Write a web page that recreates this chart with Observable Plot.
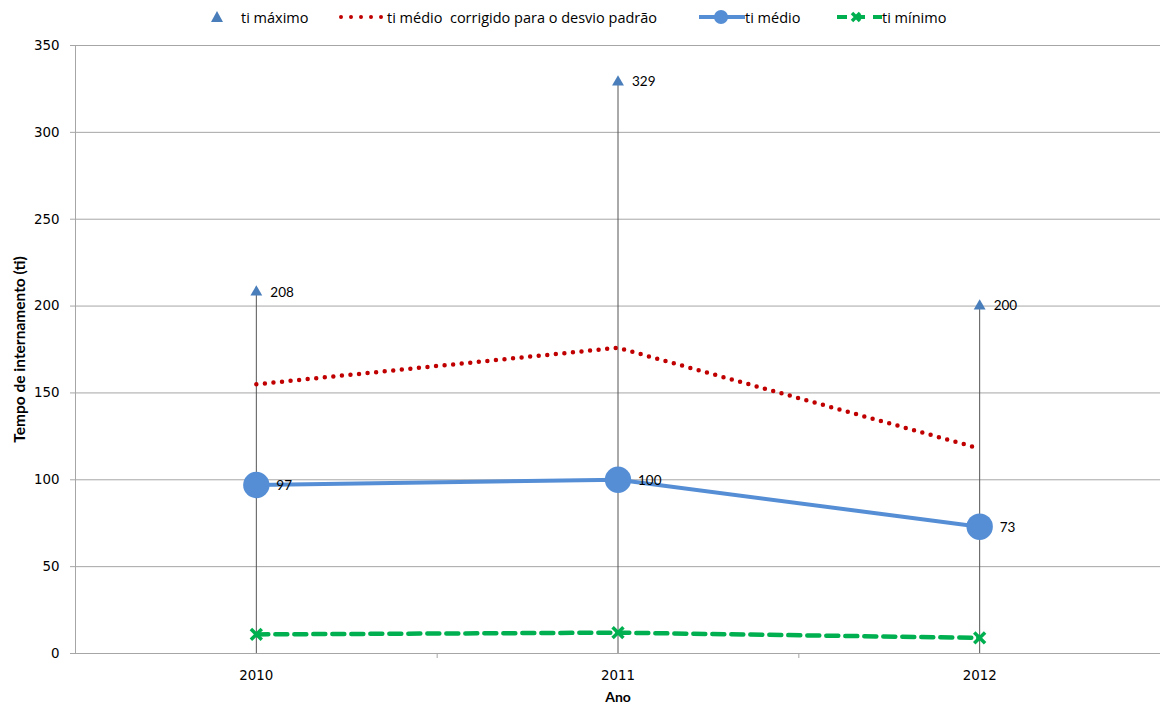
<!DOCTYPE html>
<html>
<head>
<meta charset="utf-8">
<script src="https://cdn.jsdelivr.net/npm/d3@7"></script>
<script src="https://cdn.jsdelivr.net/npm/@observablehq/plot@0.6"></script>
<style>
  html, body { margin: 0; padding: 0; background: #fff; }
  #wrap { position: relative; width: 1160px; height: 711px; }
  #legend { position: relative; height: 36px; font-family: "Open Sans", Lato, sans-serif; font-size: 14.5px; color: #000; }
  .sw { position: absolute; top: 10px; display: block; }
  .lt { position: absolute; top: 8px; line-height: 20px; white-space: pre; }
</style>
</head>
<body>
<div id="wrap">
  <div id="legend"></div>
  <div id="chart"></div>
</div>
<script>
// Tempo de internamento por ano
const years = [2010, 2011, 2012];
const tiMaximo = [208, 329, 200];
const tiMedioCorrigido = [155, 176, 118];
const tiMedio = [97, 100, 73];
const tiMinimo = [11, 12, 9];
const yTicks = [0, 50, 100, 150, 200, 250, 300, 350];

const blueMax = "#4A7EBB";
const blueMean = "#558ED5";
const red = "#C00000";
const green = "#00B050";
const gridColor = "#a6a6a6";

const rows = years.map((ano, i) => ({
  ano,
  max: tiMaximo[i],
  corr: tiMedioCorrigido[i],
  medio: tiMedio[i],
  min: tiMinimo[i]
}));

const labelFont = "Lato, 'Open Sans', sans-serif";

const chart = Plot.plot({
  width: 1160,
  height: 675,
  marginLeft: 75,
  marginRight: 0,
  marginTop: 9,
  marginBottom: 58,
  style: { fontFamily: "'DejaVu Sans', Verdana, sans-serif", fontSize: "13.4px", color: "#000", background: "#fff" },
  x: { type: "linear", domain: [years[0] - 0.5, years[years.length - 1] + 0.5] },
  y: { domain: [0, 350] },
  marks: [
    Plot.gridY(yTicks, { stroke: gridColor, strokeOpacity: 1 }),
    Plot.ruleX([years[0] - 0.5], { stroke: gridColor }),
    Plot.ruleY([0], { stroke: gridColor }),
    Plot.axisY({ ticks: yTicks, tickSize: 5, tickPadding: 11, stroke: gridColor, label: null }),
    Plot.axisX({ ticks: [2010.5, 2011.5], tickSize: 5, stroke: gridColor, tickFormat: () => "", label: null }),
    Plot.axisX({ ticks: years, tickSize: 0, tickPadding: 17, tickFormat: d => String(d), label: null }),
    // linhas verticais do zero ao máximo
    Plot.ruleX(rows, { x: "ano", y1: 0, y2: "max", stroke: "#555", strokeWidth: 1 }),
    // ti médio corrigido para o desvio padrão
    Plot.line(rows, { x: "ano", y: "corr", stroke: red, strokeWidth: 4.5, strokeDasharray: "0,8.6", strokeLinecap: "round" }),
    // ti mínimo
    Plot.line(rows, { x: "ano", y: "min", stroke: green, strokeWidth: 4.5, strokeDasharray: "12,7" }),
    Plot.dot(rows, { x: "ano", y: "min", symbol: "times", r: 5, stroke: green, strokeWidth: 3.5 }),
    // ti médio
    Plot.line(rows, { x: "ano", y: "medio", stroke: blueMean, strokeWidth: 4 }),
    Plot.dot(rows, { x: "ano", y: "medio", r: 13.2, fill: blueMean, stroke: "none" }),
    // ti máximo
    Plot.dot(rows, { x: "ano", y: "max", symbol: "triangle", r: 4.4, fill: blueMax, stroke: "none" }),
    Plot.text(rows, { x: "ano", y: "max", text: d => String(d.max), dx: 14, textAnchor: "start", fontSize: 13.5, fontFamily: labelFont }),
    Plot.text(rows, { x: "ano", y: "medio", text: d => String(d.medio), dx: 20, dy: 1, textAnchor: "start", fontSize: 13.5, fontFamily: labelFont }),
    // títulos dos eixos
    Plot.text(["Tempo de internamento (ti)"], { frameAnchor: "left", textAnchor: "middle", dx: -55, rotate: -90, fontWeight: "bold", fontSize: 15.5, fontFamily: labelFont }),
    Plot.text(["Ano"], { frameAnchor: "bottom", dy: 48, fontWeight: "bold", fontSize: 14, fontFamily: labelFont })
  ]
});
document.getElementById("chart").appendChild(chart);

// Legenda: amostra e texto de cada série
const legendItems = [
  { sw: 209, w: 16, txt: 241, label: "ti máximo",
    svg: `<path d="M8,1 L14,12 L2,12 Z" fill="${blueMax}"/>` },
  { sw: 336, w: 50, txt: 387, label: "ti médio  corrigido para o desvio padrão",
    svg: `<line x1="5" y1="7" x2="46" y2="7" stroke="${red}" stroke-width="4" stroke-dasharray="0,10" stroke-linecap="round"/>` },
  { sw: 699, w: 46, txt: 745, label: "ti médio",
    svg: `<line x1="0" y1="7" x2="46" y2="7" stroke="${blueMean}" stroke-width="4"/><circle cx="22" cy="7" r="7" fill="${blueMean}"/>` },
  { sw: 836, w: 46, txt: 882, label: "ti mínimo",
    svg: `<line x1="1" y1="7" x2="46" y2="7" stroke="${green}" stroke-width="4" stroke-dasharray="10,8"/><path d="M16,3 L24,11 M24,3 L16,11" stroke="${green}" stroke-width="3.5"/>` }
];
const legend = document.getElementById("legend");
for (const it of legendItems) {
  const s = document.createElementNS("http://www.w3.org/2000/svg", "svg");
  s.setAttribute("class", "sw");
  s.setAttribute("width", it.w);
  s.setAttribute("height", 14);
  s.style.left = it.sw + "px";
  s.innerHTML = it.svg;
  legend.appendChild(s);
  const t = document.createElement("span");
  t.className = "lt";
  t.style.left = it.txt + "px";
  t.textContent = it.label;
  legend.appendChild(t);
}
</script>
</body>
</html>
